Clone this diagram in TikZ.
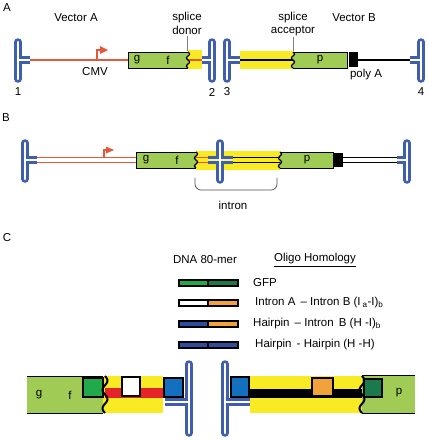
\documentclass[tikz,border=0pt]{standalone}
\usepackage{fontspec}
\setmainfont{Liberation Sans}
\definecolor{hpblue}{HTML}{3F5EAE}
\definecolor{boxgreen}{HTML}{A0CC55}
\definecolor{ylw}{HTML}{F8EB24}
\definecolor{cmvred}{HTML}{E4573A}
\definecolor{bandred}{HTML}{E52328}
\definecolor{gfpgreen}{HTML}{22AA4A}
\definecolor{gfpdark}{HTML}{1B7A4C}
\definecolor{org}{HTML}{F2A23A}
\definecolor{lblue}{HTML}{2D4E9E}
\definecolor{sqblue}{HTML}{1370BE}
\tikzset{
  hpout/.style={draw=hpblue, line width=7.5pt},
  hpin/.style={draw=white, line width=2.5pt},
  boxline/.style={draw=black, line width=0.9pt},
  oligo/.style={draw=black, line width=1.6pt},
  lbar/.style={draw=black, line width=1.1pt},
  dnaline/.style={line width=1.3pt},
}
\newcommand{\HairT}[5]{%
  \draw[hpout,line cap=round] (#1,#2)--(#1,#3);
  \draw[hpout] (#1,#5)--(#4,#5);
  \draw[hpin,line cap=round] (#1,#2)--(#1,#3);
  \draw[hpin] (#1,#5)--(#4,#5);}
\newcommand{\Wave}[5]{%
  \draw[line width=#5] plot[domain=0:1,samples=41,smooth] ({#1+#4*sin(720*\x)},{#2+(#3-#2)*\x});}
\newcommand{\DLine}[4]{%
  \draw[dnaline,#1] (#2,#4-2.5)--(#3,#4-2.5);
  \draw[dnaline,#1] (#2,#4+2.5)--(#3,#4+2.5);}
\newcommand{\LBar}[3]{%
  \fill[#2] (179,#1-3) rectangle (208,#1+3);
  \fill[#3] (208,#1-3) rectangle (238,#1+3);
  \draw[lbar] (179,#1-3) rectangle (238,#1+3);
  \draw[lbar] (208,#1-3)--(208,#1+3);}
\begin{document}
\begin{tikzpicture}[x=1pt,y=-1pt, font=\fontsize{11.5}{13}\selectfont, every node/.style={inner sep=0pt}]
\useasboundingbox (0,0) rectangle (429,440);

% ================= A =================
\node (labA) at (7,8) {A};
\fill[ylw] (188,50) rectangle (202,69);
\fill[ylw] (240,51) rectangle (293,69);
\draw[cmvred, line width=2pt] (30,60) -- (128,60);
\draw[cmvred, line width=2pt] (188,60) -- (205,60);
\draw[black, line width=1.4pt] (238,60) -- (293,60);
\draw[black, line width=1.4pt] (358,60) -- (412,60);
\draw[cmvred, line width=2pt] (97,60) |- (101,50);
\fill[cmvred] (100,46) -- (108,50) -- (100,54) -- cycle;
% gf box
\fill[boxgreen] (128,52) rectangle (188,68);
\draw[boxline] (188,52) -- (128,52) -- (128,68) -- (188,68);
\Wave{188}{52}{68}{1.5}{1.2pt}
% p box
\fill[boxgreen] (293,52) rectangle (347,68);
\draw[boxline] (293,52) -- (347,52) -- (347,68) -- (293,68);
\Wave{293}{52}{68}{1.5}{1.2pt}
\fill[black] (349,52) rectangle (358,67);
\draw[gray, line width=0.6pt] (187,36) -- (187,51);
\draw[gray, line width=0.6pt] (293,37) -- (293,51);
\HairT{18}{42}{79}{30}{60}
\HairT{212}{42}{79}{202}{60}
\HairT{227}{42}{79}{240}{60}
\HairT{421}{42}{79}{410}{60}
\node (vecA) at (76,18) {Vector A};
\node (cmv) at (95,72) {CMV};
\node (n1) at (18,92) {1};
\node (n2) at (212,92) {2};
\node (n3) at (227,92) {3};
\node (n4) at (421,92) {4};
\node (sd1) at (187,18) {splice};
\node (sd2) at (187,30) {donor};
\node (sa1) at (293,18) {splice};
\node (sa2) at (293,31) {acceptor};
\node (vecB) at (354,18) {Vector B};
\node (polyA) at (366,75) {poly A};
\node (gA) at (137,60) {g};
\node (fA) at (168,60) {f};
\node (pA) at (320,60) {p};

% ================= B =================
\node (labB) at (6,118) {B};
\fill[ylw] (196,151) rectangle (280,170);
\DLine{cmvred}{37}{136}{160}
\DLine{cmvred}{196}{212}{160}
\DLine{black}{230}{280}{160}
\DLine{black}{343}{397}{160}
\draw[cmvred, line width=2pt] (104,157.5) |- (107,150);
\fill[cmvred] (106,146.5) -- (114,150) -- (106,153.5) -- cycle;
\fill[boxgreen] (136,152) rectangle (196,168);
\draw[boxline] (196,152) -- (136,152) -- (136,168) -- (196,168);
\Wave{196}{152}{168}{1.5}{1.2pt}
\fill[boxgreen] (280,152) rectangle (333,168);
\draw[boxline] (280,152) -- (333,152) -- (333,168) -- (280,168);
\Wave{280}{152}{168}{1.5}{1.2pt}
\fill[black] (333,153) rectangle (343,167);
\HairT{25}{143}{179}{37}{160}
\HairT{407}{143}{180}{397}{160}
% cross hairpin
\draw[hpout,line cap=round] (220,143)--(220,180);
\draw[hpout] (208,160)--(233,160);
\draw[draw=ylw!60!white, line width=2.5pt] (208,160)--(233,160);
\draw[hpin,line cap=round] (220,143)--(220,180);
\draw[gray!60!black, line width=0.7pt, rounded corners=6pt] (195,178) -- (195,190) -- (277,190) -- (277,178);
\node (gB) at (146,160) {g};
\node (fB) at (177,160) {f};
\node (pB) at (307,160) {p};
\node (intron) at (233,205) {intron};

% ================= C =================
\node (labC) at (7,238) {C};
\node (dna) at (205,260) {DNA 80-mer};
\node (olig) at (315,260) {\underline{Oligo Homology}};
\LBar{283}{gfpgreen}{gfpdark}
\LBar{303}{white}{org}
\LBar{324}{lblue}{org}
\LBar{345}{lblue}{lblue}
\node[anchor=west] (tGFP) at (253,283) {GFP};
\node[anchor=west] (tIA) at (255,303) {Intron A \,– Intron B (I\,\textsubscript{a}-I)\textsubscript{b}};
\node[anchor=west] (tHI) at (253,324) {Hairpin \,– Intron \,B (H -I)\textsubscript{b}};
\node[anchor=west] (tHH) at (255,345) {Hairpin \,- Hairpin (H -H)};

% left construct
\fill[boxgreen] (27,376) rectangle (103,413);
\draw[boxline] (27,376) -- (103,376);
\draw[boxline] (27,413) -- (103,413);
\fill[ylw] (103,376) rectangle (163,413);
\fill[bandred] (105,388) rectangle (170,398);
\draw[oligo, fill=gfpgreen] (83,378) rectangle (103,397);
\Wave{105}{376}{413}{2.5}{2pt}
\draw[oligo, fill=white] (122,377) rectangle (140,396);
\draw[oligo, fill=sqblue] (164,378) rectangle (183,397);
\HairT{189}{364}{433}{165}{402}
\node (gC) at (39,395) {g};
\node (fC) at (70,395) {f};

% right construct
\fill[ylw] (250,376) rectangle (362,413);
\fill[black] (245,389) rectangle (362,398);
\HairT{225}{364}{433}{250}{402}
\draw[oligo, fill=sqblue] (231,377) rectangle (249,397);
\draw[oligo, fill=org] (312,378) rectangle (333,396);
\fill[boxgreen] (362,375) rectangle (415,413);
\draw[boxline] (362,375) -- (415,375);
\draw[boxline] (362,413) -- (415,413);
\Wave{362}{376}{413}{2.5}{2pt}
\draw[oligo, fill=gfpdark] (364,379) rectangle (382,397);
\node (pC) at (399,393) {p};
\end{tikzpicture}
\end{document}
